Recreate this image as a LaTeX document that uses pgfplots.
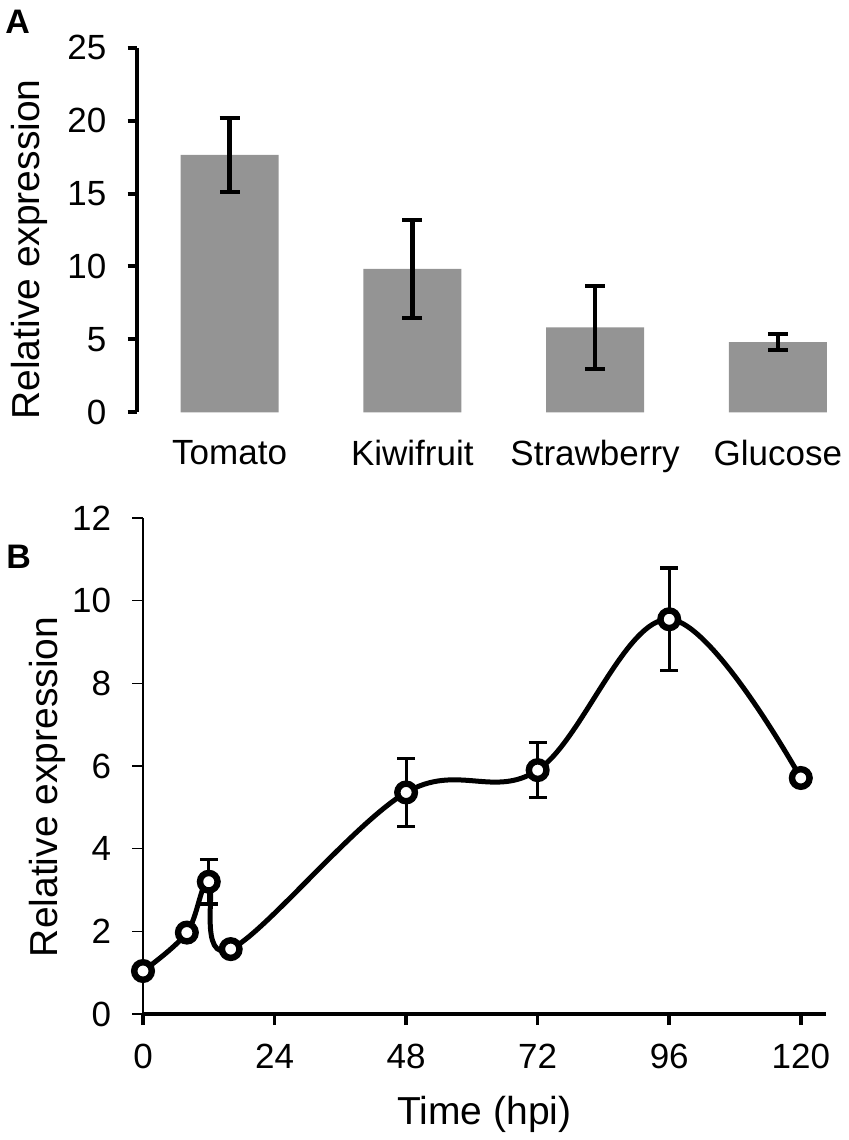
\documentclass[border=0pt]{standalone}
\usepackage{fontspec}
\setmainfont{Liberation Sans}
\usepackage{pgfplots}
\usepackage{pgfplotstable}
\pgfplotsset{compat=1.18}
\definecolor{bargray}{RGB}{148,148,148}
\newcommand\tickfont{\fontsize{17.5}{21}\selectfont}
\newcommand\labfont{\fontsize{19.5}{23}\selectfont}
\pgfplotstableread{
x y e
0 17.65 2.55
1 9.84 3.35
2 5.83 2.86
3 4.81 0.54
}\dataA
\pgfplotstableread{
x y e
0 1.04 0
8 1.97 0
12 3.20 0.54
16 1.57 0
48 5.36 0.82
72 5.90 0.66
96 9.55 1.24
120 5.71 0
}\dataB
\begin{document}
\begin{tikzpicture}
\useasboundingbox (0,0) rectangle (424.5pt,570pt);
\begin{axis}[
  at={(68.35pt,363.85pt)}, anchor=south west,
  scale only axis, width=351.65pt, height=182.3pt,
  xmin=-0.508, xmax=3.34, ymin=0, ymax=25,
  axis x line*=bottom, axis y line*=left,
  x axis line style={draw=none},
  y axis line style={line width=2pt, -},
  xtick={0,1,2,3}, xticklabels={Tomato,Kiwifruit,Strawberry,Glucose},
  ytick={0,5,...,25},
  tick align=outside, major tick length=4.5pt,
  xtick style={draw=none},
  ytick style={line width=2pt, black},
  /pgf/number format/assume math mode=true,
  xticklabel style={font=\tickfont, inner sep=0pt, anchor=north, yshift=-9.35pt},
  yticklabel style={font=\tickfont, inner sep=0pt, anchor=east, xshift=-10.5pt},
  ylabel={Relative expression},
  ylabel style={font=\labfont, inner sep=0pt, at={(axis description cs:-0.1389,0.4465)}, anchor=base, rotate=0},
  clip=false,
]
\addplot[ybar, bar width=49pt, fill=bargray, draw=none,
  error bars/.cd, y dir=both, y explicit,
  error bar style={draw=black, line width=2.2pt},
  error mark options={draw=black, line width=2pt, mark size=5pt, rotate=90}]
  table[x=x, y=y, y error=e]{\dataA};
\end{axis}
\begin{axis}[
  at={(71.5pt,63pt)}, anchor=south west,
  scale only axis, width=341.5pt, height=248pt,
  xmin=0, xmax=124.6, ymin=0, ymax=12,
  axis x line*=bottom, axis y line*=left,
  x axis line style={line width=1.8pt, -},
  y axis line style={line width=0.7pt, -},
  xtick={0,24,...,120}, ytick={0,2,...,12},
  tick align=outside, major tick length=5.5pt,
  xtick style={line width=1.8pt, black},
  ytick style={line width=0.7pt, black},
  /pgf/number format/assume math mode=true,
  xticklabel style={font=\tickfont, inner sep=0pt, anchor=north, yshift=-9.15pt},
  yticklabel style={font=\tickfont, inner sep=0pt, anchor=east, xshift=-10.25pt},
  xlabel={Time (hpi)},
  xlabel style={font=\labfont, inner sep=0pt, at={(axis description cs:0.5,-0.223)}, anchor=base},
  ylabel={Relative expression},
  ylabel style={font=\labfont, inner sep=0pt, at={(axis description cs:-0.1245,0.4577)}, anchor=base, rotate=0},
  clip=false,
]
\addplot[black, line width=2.5pt, smooth, tension=0.6, mark=none,
  error bars/.cd, y dir=both, y explicit,
  error bar style={draw=black, line width=1.6pt},
  error mark options={draw=black, line width=1.6pt, mark size=4.5pt, rotate=90}]
  table[x=x, y=y, y error=e]{\dataB};
\addplot[only marks, mark=*, mark size=4.4pt, mark options={fill=white, draw=black, line width=3.2pt}]
  table[x=x, y=y]{\dataB};
\end{axis}
\node[anchor=north west, inner sep=0pt, font=\fontsize{17}{20}\selectfont\bfseries] at (2.5pt,565pt) {A};
\node[anchor=north west, inner sep=0pt, font=\fontsize{17}{20}\selectfont\bfseries] at (3pt,297.5pt) {B};
\end{tikzpicture}
\end{document}
